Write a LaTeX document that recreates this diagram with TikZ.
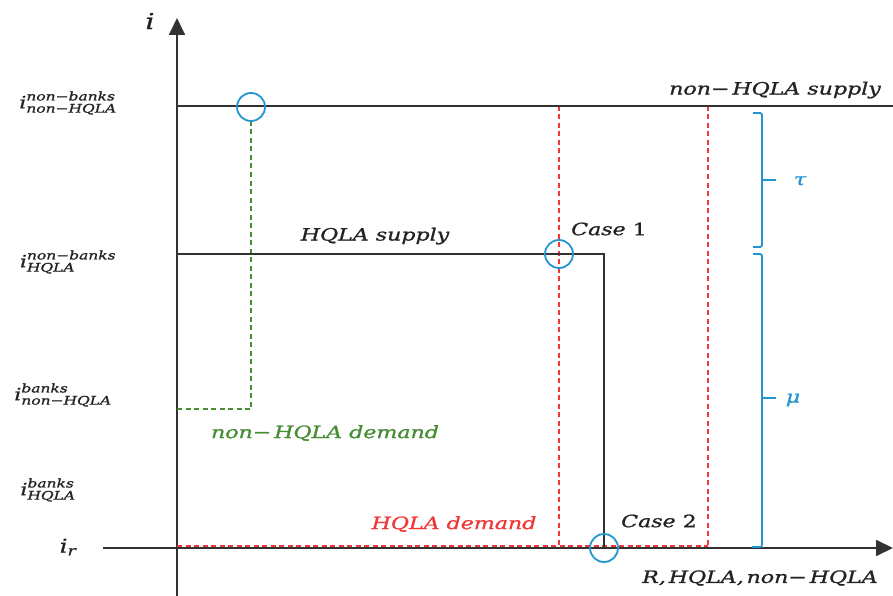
\documentclass[tikz,border=0pt]{standalone}
\usepackage{amsmath}
\usepackage{fontspec}
\setmainfont[FakeStretch=1.3,FakeBold=1.2]{DejaVu Serif}
\usetikzlibrary{arrows.meta}
\definecolor{axisgrey}{RGB}{50,50,50}
\definecolor{inkgrey}{RGB}{35,35,35}
\definecolor{circblue}{RGB}{35,150,210}
\definecolor{demred}{RGB}{240,55,55}
\definecolor{demgreen}{RGB}{70,140,50}
\newcommand{\lbl}[1]{\textit{#1}}
\begin{document}
\begin{tikzpicture}[x=1pt,y=-1pt,
  font=\fontsize{17}{20}\selectfont\itshape,
  text=inkgrey,
  axisline/.style={draw=axisgrey, line width=1.8pt, -{Triangle[length=17pt,width=16pt]}},
  supply/.style={draw=axisgrey, line width=1.8pt},
  reddash/.style={draw=demred, line width=2pt, dash pattern=on 5pt off 3.5pt},
  greendash/.style={draw=demgreen, line width=2pt, dash pattern=on 5pt off 3.5pt},
  ring/.style={circle, draw=circblue, line width=1.8pt, minimum size=28pt, inner sep=0pt},
  bracket/.style={draw=circblue, line width=1.8pt, rounded corners=2pt},
  ylab/.style={inner sep=0pt, font=\fontsize{17}{20}\selectfont},
]
\useasboundingbox (0,0) rectangle (893,596);

% axes
\coordinate (ybot) at (177,596);
\coordinate (ytop) at (177,18);
\coordinate (xleft) at (103,548);
\coordinate (xright) at (893,548);
\draw[axisline] (ybot) -- (ytop);
\draw[axisline] (xleft) -- (xright);
\node[ylab, font=\fontsize{22}{24}\selectfont\itshape] (ilab) at (150,21) {i};
\node (xlab) at (760,578) {R,\,HQLA,\,non−\,HQLA};

% y-axis levels
\node[ylab] (l1) at (68,103) {$\lbl{i}^{\lbl{non−banks}}_{\lbl{non−HQLA}}$};
\node[ylab] (l2) at (68,262) {$\lbl{i}^{\lbl{non−banks}}_{\lbl{HQLA}}$};
\node[ylab] (l3) at (63,395) {$\lbl{i}^{\lbl{banks}}_{\lbl{non−HQLA}}$};
\node[ylab] (l4) at (48,490) {$\lbl{i}^{\lbl{banks}}_{\lbl{HQLA}}$};
\node[ylab, font=\fontsize{19}{22}\selectfont] (l5) at (68,547) {$\lbl{i}_{\lbl{r}}$};

% key points
\coordinate (nhs0) at (177,106);
\coordinate (nhs1) at (893,106);
\coordinate (hs0) at (177,254);
\coordinate (hs1) at (604,254);
\coordinate (hs2) at (604,548);
\coordinate (g0) at (177,409);
\coordinate (g1) at (251,409);
\coordinate (g2) at (251,121);
\coordinate (r1top) at (559,106);
\coordinate (r1bot) at (559,546);
\coordinate (r2top) at (708,106);
\coordinate (r2bot) at (708,546);
\coordinate (rl) at (177,546);

% demand curves (dashed)
\draw[greendash] (g0) -- (g1) -- (g2);
\draw[reddash] (rl) -- (r2bot);
\draw[reddash] (r1top) -- (r1bot);
\draw[reddash] (r2top) -- (r2bot);

% supply curves
\draw[supply] (nhs0) -- (nhs1);
\draw[supply] (hs0) -- (hs1) -- (hs2);

% intersections
\node[ring] (c0) at (251,107) {};
\node[ring] (c1) at (559,254) {};
\node[ring] (c2) at (604,548) {};

% curve labels
\node (t1) at (775,90) {non−\,HQLA supply};
\node (t2) at (375,236) {HQLA supply};
\node[text=demgreen] (t3) at (325,433) {non−\,HQLA demand};
\node[text=demred] (t4) at (454,524) {HQLA demand};
\node (t5) at (609,229) {Case \upshape 1};
\node (t6) at (659,521) {Case \upshape 2};

% spreads
\draw[bracket] (753,113) -- (762,113) -- (762,247) -- (753,247);
\draw[bracket] (762,180) -- (776,180);
\draw[bracket] (753,254) -- (762,254) -- (762,547) -- (752,547);
\draw[bracket] (762,398) -- (776,398);
\node[text=circblue] (tau) at (800,181) {τ};
\node[text=circblue] (mu) at (793,400) {μ};
\end{tikzpicture}
\end{document}
